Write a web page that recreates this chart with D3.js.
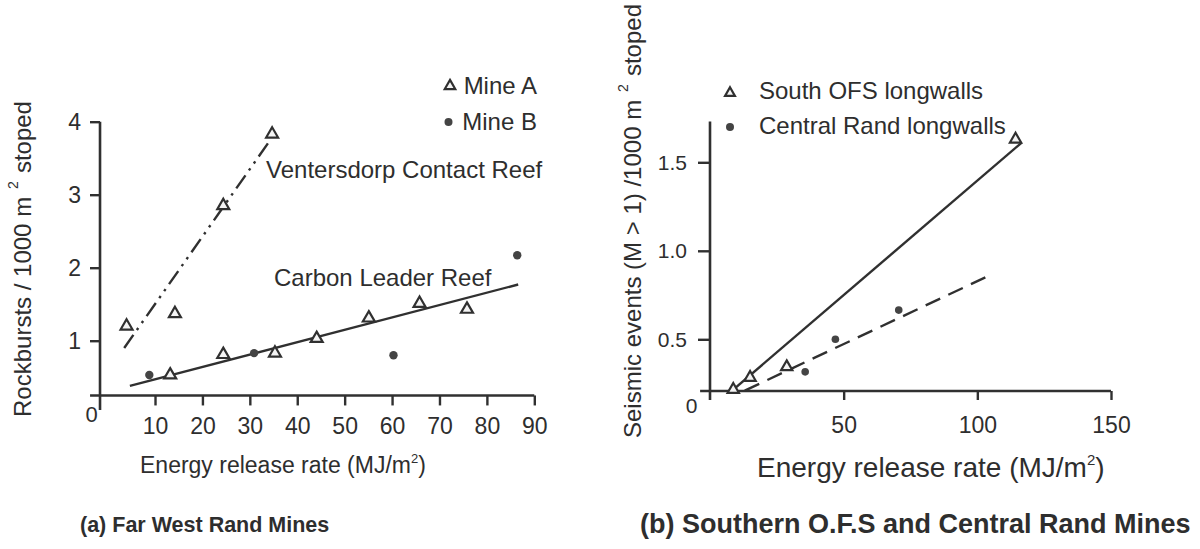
<!DOCTYPE html>
<html>
<head>
<meta charset="utf-8">
<script src="https://cdn.jsdelivr.net/npm/d3@7"></script>
<style>
  html, body { margin: 0; padding: 0; background: #fff; }
  svg { display: block; }
  text { font-family: "Liberation Sans", Arial, Helvetica, sans-serif; fill: #2e2e2e; }
</style>
</head>
<body>
<svg id="fig" width="1200" height="549"></svg>
<script>
// ---------- (a) Far West Rand Mines ----------
// Mine A (triangles): Ventersdorp Contact Reef points first, then Carbon Leader Reef points
const mineAx = [4, 14.2, 24.4, 34.7, 13.2, 24.4, 35.3, 44.1, 55.1, 65.8, 75.8];
const mineAy = [1.2, 1.37, 2.85, 3.83, 0.53, 0.81, 0.83, 1.03, 1.31, 1.51, 1.43];
// Mine B (dots)
const mineBx = [8.8, 30.9, 60.3, 86.4];
const mineBy = [0.53, 0.83, 0.80, 2.17];
// fitted trend lines (end points)
const vcrFitX = [3.5, 34];
const vcrFitY = [0.9, 3.72];
const clrFitX = [4.7, 86.6];
const clrFitY = [0.38, 1.77];
const ticksAx = [10, 20, 30, 40, 50, 60, 70, 80, 90];
const ticksAy = [1, 2, 3, 4];

// ---------- (b) Southern O.F.S and Central Rand Mines ----------
const ofsX = [8.7, 15.0, 28.7, 114.3];
const ofsY = [0.216, 0.284, 0.344, 1.63];
const crX = [35.6, 46.9, 70.6];
const crY = [0.316, 0.50, 0.665];
const ofsFitX = [7.5, 116.5];
const ofsFitY = [0.20, 1.61];
const crFitX = [13, 103];
const crFitY = [0.21, 0.85];
const ticksBx = [50, 100, 150];
const ticksBy = [0.5, 1.0, 1.5];

const ink = "#303030";
const svg = d3.select("#fig");
svg.append("rect").attr("width", 1200).attr("height", 549).attr("fill", "#fff");

const zip = (xs, ys) => xs.map((x, i) => [x, ys[i]]);
const tri = d3.symbol().type(d3.symbolTriangle);

// ================= panel (a) =================
const xa = d3.scaleLinear().domain([0, 90]).range([107.6, 534.3]);
const ya = d3.scaleLinear().domain([0, 4]).range([413.7, 121.7]);
const gA = svg.append("g");

// axis frame: x axis sits slightly above zero, y axis just left of zero
const axA = { xAt: 0.25, yAt: -1.6 };
gA.append("line")
  .attr("x1", xa(-3.7)).attr("x2", xa(90))
  .attr("y1", ya(axA.xAt)).attr("y2", ya(axA.xAt))
  .attr("stroke", ink).attr("stroke-width", 2.6);
gA.append("line")
  .attr("x1", xa(axA.yAt)).attr("x2", xa(axA.yAt))
  .attr("y1", ya(4)).attr("y2", ya(0.05))
  .attr("stroke", ink).attr("stroke-width", 2.6);

const axisAx = gA.append("g")
  .attr("transform", `translate(0,${ya(axA.xAt)})`)
  .call(d3.axisBottom(xa).tickValues(ticksAx).tickSize(10).tickPadding(12));
const axisAy = gA.append("g")
  .attr("transform", `translate(${xa(axA.yAt)},0)`)
  .call(d3.axisLeft(ya).tickValues(ticksAy).tickSize(10).tickPadding(9).tickFormat(d3.format("d")));
[axisAx, axisAy].forEach(a => {
  a.select(".domain").remove();
  a.selectAll(".tick line").attr("stroke", ink).attr("stroke-width", 2.4);
  a.selectAll(".tick text").attr("fill", "#2e2e2e").style("font-family", "Liberation Sans, Arial, sans-serif");
});
axisAx.selectAll(".tick text").style("font-size", "23px");
axisAy.selectAll(".tick text").style("font-size", "23px");
gA.append("text").attr("x", 91.7).attr("y", 422).attr("text-anchor", "middle")
  .style("font-size", "22px").text("0");

// trend lines
const lineA = d3.line().x(d => xa(d[0])).y(d => ya(d[1]));
gA.append("path").datum(zip(vcrFitX, vcrFitY)).attr("d", lineA)
  .attr("fill", "none").attr("stroke", ink).attr("stroke-width", 2.4)
  .attr("stroke-dasharray", "16,6,2.5,6,2.5,6");
gA.append("path").datum(zip(clrFitX, clrFitY)).attr("d", lineA)
  .attr("fill", "none").attr("stroke", ink).attr("stroke-width", 2.4);

// points
gA.selectAll("path.mA").data(zip(mineAx, mineAy)).join("path").attr("class", "mA")
  .attr("d", tri.size(62)())
  .attr("transform", d => `translate(${xa(d[0])},${ya(d[1])})`)
  .attr("fill", "#f4f4f4").attr("stroke", ink).attr("stroke-width", 2.2);
gA.selectAll("circle.mB").data(zip(mineBx, mineBy)).join("circle").attr("class", "mB")
  .attr("cx", d => xa(d[0])).attr("cy", d => ya(d[1])).attr("r", 4.2)
  .attr("fill", "#444");

// legend
gA.append("path").attr("d", tri.size(48)()).attr("transform", "translate(450,86)")
  .attr("fill", "#f4f4f4").attr("stroke", ink).attr("stroke-width", 2.2);
gA.append("text").attr("x", 537).attr("y", 94).attr("text-anchor", "end")
  .style("font-size", "24px").text("Mine A");
gA.append("circle").attr("cx", 448.5).attr("cy", 122).attr("r", 4).attr("fill", "#444");
gA.append("text").attr("x", 537).attr("y", 130).attr("text-anchor", "end")
  .style("font-size", "24px").text("Mine B");

// annotations
gA.append("text").attr("x", 266).attr("y", 178).style("font-size", "24px")
  .text("Ventersdorp Contact Reef");
gA.append("text").attr("x", 274).attr("y", 286).style("font-size", "24px")
  .text("Carbon Leader Reef");

// axis titles
const xtA = gA.append("text").attr("x", 140).attr("y", 473).style("font-size", "23px");
xtA.append("tspan").text("Energy release rate (MJ/m");
xtA.append("tspan").attr("dy", -10).style("font-size", "13px").text("2");
xtA.append("tspan").attr("dy", 10).text(")");

const ytA = gA.append("text").attr("transform", "translate(31,259) rotate(-90)")
  .attr("text-anchor", "middle").style("font-size", "24px");
ytA.append("tspan").text("Rockbursts / 1000 m");
ytA.append("tspan").attr("dx", 8).attr("dy", -13).style("font-size", "14px").text("2");
ytA.append("tspan").attr("dx", 8).attr("dy", 13).text("stoped");

gA.append("text").attr("x", 80).attr("y", 532).style("font-size", "21.5px")
  .style("font-weight", "bold").text("(a) Far West Rand Mines");

// ================= panel (b) =================
const xb = d3.scaleLinear().domain([0, 150]).range([710, 1111]);
const yb = d3.scaleLinear().domain([0, 1.5]).range([427.8, 162.3]);
const gB = svg.append("g");

const axB = { xAt: 0.208, yAt: 0 };
gB.append("line")
  .attr("x1", xb(-3.7)).attr("x2", xb(150))
  .attr("y1", yb(axB.xAt)).attr("y2", yb(axB.xAt))
  .attr("stroke", ink).attr("stroke-width", 2.6);
gB.append("line")
  .attr("x1", xb(axB.yAt)).attr("x2", xb(axB.yAt))
  .attr("y1", yb(1.73)).attr("y2", yb(0.157))
  .attr("stroke", ink).attr("stroke-width", 2.6);

const axisBx = gB.append("g")
  .attr("transform", `translate(0,${yb(axB.xAt)})`)
  .call(d3.axisBottom(xb).tickValues(ticksBx).tickSize(9).tickPadding(17));
const axisBy = gB.append("g")
  .attr("transform", `translate(${xb(axB.yAt)},0)`)
  .call(d3.axisLeft(yb).tickValues(ticksBy).tickSize(12).tickPadding(11).tickFormat(d3.format(".1f")));
[axisBx, axisBy].forEach(a => {
  a.select(".domain").remove();
  a.selectAll(".tick line").attr("stroke", ink).attr("stroke-width", 2.4);
  a.selectAll(".tick text").attr("fill", "#2e2e2e").style("font-family", "Liberation Sans, Arial, sans-serif");
});
axisBx.selectAll(".tick text").style("font-size", "23px");
axisBy.selectAll(".tick text").style("font-size", "21px");
gB.append("text").attr("x", 691.7).attr("y", 412.5).attr("text-anchor", "middle")
  .style("font-size", "21px").text("0");

const lineB = d3.line().x(d => xb(d[0])).y(d => yb(d[1]));
gB.append("path").datum(zip(ofsFitX, ofsFitY)).attr("d", lineB)
  .attr("fill", "none").attr("stroke", ink).attr("stroke-width", 2.4);
gB.append("path").datum(zip(crFitX, crFitY)).attr("d", lineB)
  .attr("fill", "none").attr("stroke", ink).attr("stroke-width", 2.4)
  .attr("stroke-dasharray", "16,9");

gB.selectAll("path.ofs").data(zip(ofsX, ofsY)).join("path").attr("class", "ofs")
  .attr("d", tri.size(55)())
  .attr("transform", d => `translate(${xb(d[0])},${yb(d[1])})`)
  .attr("fill", "#f4f4f4").attr("stroke", ink).attr("stroke-width", 2.2);
gB.selectAll("circle.cr").data(zip(crX, crY)).join("circle").attr("class", "cr")
  .attr("cx", d => xb(d[0])).attr("cy", d => yb(d[1])).attr("r", 3.8)
  .attr("fill", "#444");

// legend
gB.append("path").attr("d", tri.size(42)()).attr("transform", "translate(730,93)")
  .attr("fill", "#f4f4f4").attr("stroke", ink).attr("stroke-width", 2.2);
gB.append("text").attr("x", 759).attr("y", 99).style("font-size", "24px")
  .text("South OFS longwalls");
gB.append("circle").attr("cx", 730).attr("cy", 127).attr("r", 4).attr("fill", "#444");
gB.append("text").attr("x", 759).attr("y", 133.5).style("font-size", "24px")
  .text("Central Rand longwalls");

// axis titles
const xtB = gB.append("text").attr("x", 757).attr("y", 477).style("font-size", "28px");
xtB.append("tspan").text("Energy release rate (MJ/m");
xtB.append("tspan").attr("dy", -12).style("font-size", "15px").text("2");
xtB.append("tspan").attr("dy", 12).text(")");

const ytB = gB.append("text").attr("transform", "translate(641,221) rotate(-90)")
  .attr("text-anchor", "middle").style("font-size", "24px");
ytB.append("tspan").text("Seismic events (M > 1) /1000 m");
ytB.append("tspan").attr("dx", 8).attr("dy", -13).style("font-size", "14px").text("2");
ytB.append("tspan").attr("dx", 8).attr("dy", 13).text("stoped");

gB.append("text").attr("x", 640).attr("y", 533).style("font-size", "27px")
  .style("font-weight", "bold").text("(b) Southern O.F.S and Central Rand Mines");
</script>
</body>
</html>
